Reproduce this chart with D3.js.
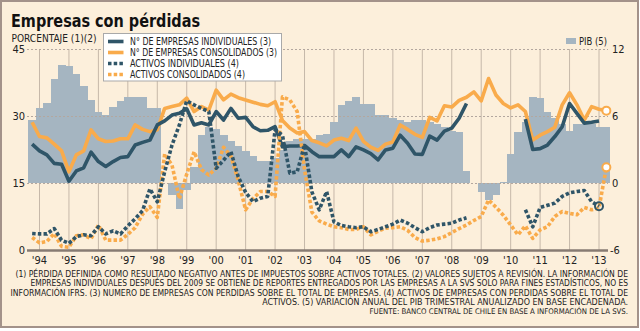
<!DOCTYPE html>
<html>
<head>
<meta charset="utf-8">
<script src="https://cdn.jsdelivr.net/npm/d3@7/dist/d3.min.js"></script>
<style>
  html, body { margin: 0; padding: 0; background: #fff; }
  svg { display: block; font-family: "DejaVu Sans Condensed", "DejaVu Sans", sans-serif; }
</style>
</head>
<body>
<div id="chart"></div>
<script>
// quarters, year-quarter
const quarters = [
  '1993-4',
  '1994-1', '1994-2', '1994-3', '1994-4', '1995-1', '1995-2', '1995-3', '1995-4',
  '1996-1', '1996-2', '1996-3', '1996-4', '1997-1', '1997-2', '1997-3', '1997-4',
  '1998-1', '1998-2', '1998-3', '1998-4', '1999-1', '1999-2', '1999-3', '1999-4',
  '2000-1', '2000-2', '2000-3', '2000-4', '2001-1', '2001-2', '2001-3', '2001-4',
  '2002-1', '2002-2', '2002-3', '2002-4', '2003-1', '2003-2', '2003-3', '2003-4',
  '2004-1', '2004-2', '2004-3', '2004-4', '2005-1', '2005-2', '2005-3', '2005-4',
  '2006-1', '2006-2', '2006-3', '2006-4', '2007-1', '2007-2', '2007-3', '2007-4',
  '2008-1', '2008-2', '2008-3', '2008-4', '2009-1', '2009-2', '2009-3', '2009-4',
  '2010-1', '2010-2', '2010-3', '2010-4', '2011-1', '2011-2', '2011-3', '2011-4',
  '2012-1', '2012-2', '2012-3', '2012-4', '2013-1', '2013-2'
];

// PIB, % (right axis)
const pib = [
  5.6,
  6.7, 7.2, 9.3, 10.6, 10.5, 9.8, 8.7, 7.4,
  6.4, 6.1, 6.8, 7.3, 7.7, 7.7, 7.7, 6.7,
  6.7, 0, -1.1, -2.3, -0.65, 1.4, 4.3, 5.0,
  4.8, 4.3, 3.8, 3.3, 2.9, 2.4, 2.0, 2.0,
  2.2, 3.0, 3.8, 3.9, 3.9, 3.9, 4.3, 4.4,
  5.5, 7.0, 7.3, 7.7, 7.1, 7.1, 6.1, 6.1,
  5.8, 5.6, 5.5, 5.6, 5.6, 5.5, 5.3, 5.0,
  4.7, 4.6, 1.1, 0, -0.8, -1.55, -1.05, 0.1,
  2.6, 4.6, 5.5, 7.7, 7.6, 6.4, 5.8, 5.3,
  4.7, 5.3, 5.3, 5.3, 5.0, 5.0
];

// N° de empresas individuales (3)
const empIndividuales = [
  23.7,
  22.2, 21.3, 19.4, 19.2, 15.4, 17.7, 18.4, 21.9,
  19.8, 18.7, 19.8, 20.7, 20.9, 23.5, 24.1, 24.6,
  28.0, 28.9, 30.2, 30.6, 31.6, 28.0, 28.5, 28.0,
  31.0, 29.1, 31.7, 29.5, 29.7, 27.6, 26.7, 26.8,
  27.6, 23.1, 23.3, 23.3, 23.4, 22.0, 20.9, 20.9,
  20.9, 22.4, 20.9, 23.1, 22.4, 21.6, 20.2, 22.4,
  22.8, 25.7, 23.9, 21.5, 21.4, 25.5, 24.6, 26.6,
  27.3, 29.5, 32.8, null, null, null, null, null,
  null, null, 29.3, 22.5, 22.7, 23.5, 25.4, 27.6,
  32.8, 30.6, 28.4, 28.6, 28.9, null
];

// N° de empresas consolidados (3)
const empConsolidados = [
  28.6,
  25.4, 25.1, 23.7, 22.2, 17.5, 21.3, 22.2, 26.9,
  24.9, 24.3, 24.4, 24.9, 24.9, 28.0, 27.0, 26.5,
  26.9, 31.7, 32.1, 32.5, 34.0, 31.0, 32.1, 31.3,
  35.8, 33.6, 34.9, 34.1, 33.6, 33.1, 32.6, 32.3,
  33.2, 29.0, 27.3, 26.2, 26.5, 24.5, 24.0, 23.3,
  24.6, 25.0, 24.5, 27.3, 24.3, 23.0, 22.3, 23.7,
  24.2, 28.0, 27.0, 25.9, 25.2, 29.7, 28.9, 32.3,
  32.0, 33.5, 34.2, 35.4, 33.4, 38.4, 34.7, 32.8,
  31.8, 32.5, 31.0, 24.6, 25.7, 26.5, 27.5, 32.5,
  35.2, 32.5, 29.1, 32.1, 31.5, 31.2
];

// Activos individuales (4)
const actIndividuales = [
  3.7,
  3.6, 3.6, 4.8, 2.2, 1.5, 3.0, 3.4, 3.2,
  5.2, 3.6, 4.3, 3.6, 5.4, 7.0, 8.8, 13.7,
  10.8, 17.5, 23.5, 28.0, 33.4, 32.5, 31.7, 31.0,
  18.3, 20.1, 22.0, 16.4, 12.9, 10.8, 11.6, 12.0,
  26.9, 25.7, 17.2, 17.5, 23.5, 13.0, 9.0, 13.1,
  6.3, 5.5, 5.2, 5.0, 5.2, 4.1, 4.6, 5.2,
  5.8, 6.7, 6.0, 5.0, 4.1, 5.0, 5.6, 5.8,
  6.0, 6.7, 7.2, null, null, null, null, null,
  null, null, 9.0, 5.2, 9.5, 10.0, 10.5, 12.0,
  12.8, 13.1, 13.3, 10.8, 9.8, null
];

// Activos consolidados (4)
const actConsolidados = [
  2.8,
  1.6, 1.9, 3.7, 0.8, 0.6, 3.2, 3.4, 2.5,
  5.6, 2.2, 2.2, 2.2, 3.5, 5.0, 8.0, 9.7,
  7.3, 21.5, 19.0, 11.5, 17.0, 22.0, 18.0, 16.8,
  18.3, 23.0, 21.0, 15.5, 9.0, 11.5, 13.1, 13.1,
  12.0, 34.3, 33.6, 31.0, 18.0, 8.5, 6.5, 5.8,
  5.2, 5.0, 4.6, 4.6, 5.2, 3.4, 4.2, 4.9,
  5.0, 5.2, 4.4, 2.8, 2.0, 2.2, 2.5, 3.0,
  3.9, 4.8, 5.6, 6.6, 7.5, 11.2, 9.6, 7.8,
  5.6, 3.4, 5.4, 2.6, 4.5, 5.2, 7.5, 8.6,
  8.2, 7.9, 9.5, 9.0, 9.4, 18.5
];

const yearTicks = [1994, 1995, 1996, 1997, 1998, 1999, 2000, 2001, 2002, 2003,
  2004, 2005, 2006, 2007, 2008, 2009, 2010, 2011, 2012, 2013];
const leftTicks = [0, 15, 30, 45];
const rightTicks = [-6, 0, 6, 12];

const legendLabels = [
  'N° DE EMPRESAS INDIVIDUALES (3)',
  'N° DE EMPRESAS CONSOLIDADOS (3)',
  'ACTIVOS INDIVIDUALES (4)',
  'ACTIVOS CONSOLIDADOS (4)'
];

const notes = [
  '(1) PÉRDIDA DEFINIDA COMO RESULTADO NEGATIVO ANTES DE IMPUESTOS SOBRE ACTIVOS TOTALES.  (2) VALORES SUJETOS A REVISIÓN. LA INFORMACIÓN DE',
  'EMPRESAS INDIVIDUALES DESPUÉS DEL 2009 SE OBTIENE DE REPORTES ENTREGADOS POR LAS EMPRESAS A LA SVS SOLO PARA FINES ESTADÍSTICOS, NO ES',
  'INFORMACIÓN IFRS.  (3) NUMERO DE EMPRESAS CON PERDIDAS SOBRE EL TOTAL DE EMPRESAS.  (4) ACTIVOS DE EMPRESAS CON PERDIDAS SOBRE EL TOTAL DE',
  'ACTIVOS.  (5) VARIACIÓN ANUAL DEL PIB TRIMESTRAL ANUALIZADO EN BASE ENCADENADA.',
  'FUENTE: BANCO CENTRAL DE CHILE EN BASE A INFORMACIÓN DE LA SVS.'
];

const BLUE = '#2f5568';
const ORANGE = '#f9ab4b';
const PIB_COLOR = '#a5b5c1';
const BG = '#fcefdb';

const width = 640, height = 331;
const plot = { left: 27, right: 608, top: 49, bottom: 250 };

const timeOf = q => {
  const parts = q.split('-').map(Number);
  return parts[0] + (parts[1] - 1) / 4;
};

const svg = d3.select('#chart').append('svg')
  .attr('width', width)
  .attr('height', height);

// frame
svg.append('rect')
  .attr('x', 1).attr('y', 1)
  .attr('width', width - 3).attr('height', 326)
  .attr('fill', BG)
  .attr('stroke', '#a3928a')
  .attr('stroke-width', 2);

const x = d3.scaleLinear().domain([1994, 2013]).range([39.5, 599]);
const yLeft = d3.scaleLinear().domain([0, 45]).range([plot.bottom, plot.top]);
const yRight = d3.scaleLinear().domain([-6, 12]).range([plot.bottom, plot.top]);
const barW = x(1994.25) - x(1994);

// vertical year grid
svg.append('g')
  .selectAll('line')
  .data(yearTicks)
  .enter()
  .append('line')
  .attr('x1', d => x(d)).attr('x2', d => x(d))
  .attr('y1', plot.top).attr('y2', plot.bottom)
  .attr('stroke', '#c6b8a9')
  .attr('stroke-width', 1);

// PIB bars (right axis)
svg.append('g')
  .selectAll('rect')
  .data(pib)
  .enter()
  .append('rect')
  .attr('x', (d, i) => x(timeOf(quarters[i])) - barW / 2)
  .attr('y', d => Math.min(yRight(d), yRight(0)))
  .attr('width', barW + 0.3)
  .attr('height', d => Math.abs(yRight(d) - yRight(0)))
  .attr('fill', PIB_COLOR)
  .attr('shape-rendering', 'crispEdges');

// dashed horizontal grid
svg.append('g')
  .selectAll('line')
  .data(leftTicks.filter(d => d > 0))
  .enter()
  .append('line')
  .attr('x1', plot.left).attr('x2', plot.right)
  .attr('y1', d => Math.round(yLeft(d)) + 0.5).attr('y2', d => Math.round(yLeft(d)) + 0.5)
  .attr('stroke', '#b3a79f')
  .attr('stroke-width', 1)
  .attr('stroke-dasharray', '2,2');

// bottom axis line
svg.append('line')
  .attr('x1', plot.left).attr('x2', plot.right)
  .attr('y1', plot.bottom + 0.5).attr('y2', plot.bottom + 0.5)
  .attr('stroke', '#877b73')
  .attr('stroke-width', 2.5);

const series = [
  { values: empConsolidados, color: ORANGE, dash: null },
  { values: empIndividuales, color: BLUE, dash: null },
  { values: actConsolidados, color: ORANGE, dash: '3.5,2.2' },
  { values: actIndividuales, color: BLUE, dash: '3.5,2.2' }
];

const line = d3.line()
  .defined(d => d.v != null)
  .x(d => x(d.t))
  .y(d => yLeft(d.v));

series.forEach(s => {
  const pts = s.values.map((v, i) => ({ t: timeOf(quarters[i]), v }));
  svg.append('path')
    .datum(pts)
    .attr('fill', 'none')
    .attr('stroke', s.color)
    .attr('stroke-width', 3.6)
    .attr('stroke-linejoin', 'round')
    .attr('stroke-dasharray', s.dash)
    .attr('d', line);
});

// end markers
const lastOf = arr => {
  let i = arr.length - 1;
  while (arr[i] == null) i--;
  return { t: timeOf(quarters[i]), v: arr[i] };
};
[
  { p: lastOf(actIndividuales), color: BLUE, fill: 'none' },
  { p: lastOf(empConsolidados), color: ORANGE, fill: '#fff' },
  { p: lastOf(actConsolidados), color: ORANGE, fill: '#fff' }
].forEach(m => {
  svg.append('circle')
    .attr('cx', x(m.p.t))
    .attr('cy', yLeft(m.p.v))
    .attr('r', 4)
    .attr('fill', m.fill)
    .attr('stroke', m.color)
    .attr('stroke-width', 2);
});

// left axis labels
svg.append('g')
  .selectAll('text')
  .data(leftTicks)
  .enter()
  .append('text')
  .attr('x', 25)
  .attr('y', d => yLeft(d) + 4)
  .attr('text-anchor', 'end')
  .attr('font-size', 11)
  .attr('fill', '#222')
  .text(d => d);

// right axis labels
svg.append('g')
  .selectAll('text')
  .data(rightTicks)
  .enter()
  .append('text')
  .attr('x', d => d < 0 ? 610 : 612)
  .attr('y', d => yRight(d) + 4)
  .attr('font-size', 11)
  .attr('fill', '#222')
  .text(d => d);

// year labels
svg.append('g')
  .selectAll('text')
  .data(yearTicks)
  .enter()
  .append('text')
  .attr('x', d => x(d))
  .attr('y', 264)
  .attr('text-anchor', 'middle')
  .attr('font-size', 11)
  .attr('fill', '#222')
  .text(d => "'" + String(d).slice(2));

// title
svg.append('text')
  .attr('x', 11).attr('y', 27)
  .attr('font-size', 18.5)
  .attr('font-weight', 'bold')
  .attr('fill', '#111')
  .attr('textLength', 189)
  .attr('lengthAdjust', 'spacingAndGlyphs')
  .text('Empresas con pérdidas');

svg.append('text')
  .attr('x', 11.5).attr('y', 41.5)
  .attr('font-size', 10.5)
  .attr('fill', '#222')
  .attr('textLength', 85)
  .attr('lengthAdjust', 'spacingAndGlyphs')
  .text('PORCENTAJE (1)(2)');

// legend
const legend = svg.append('g');
legend.append('rect')
  .attr('x', 103.5).attr('y', 33.5)
  .attr('width', 178).attr('height', 47.5)
  .attr('fill', '#fff')
  .attr('stroke', '#a9a9a9');
const legendWidths = [141, 147, 109, 115];
const legendStyle = [
  { color: BLUE, dash: null },
  { color: ORANGE, dash: null },
  { color: BLUE, dash: '3.5,2.2' },
  { color: ORANGE, dash: '3.5,2.2' }
];
legendLabels.forEach((label, i) => {
  const cy = 41.5 + i * 11;
  legend.append('line')
    .attr('x1', 108).attr('x2', 123.5)
    .attr('y1', cy).attr('y2', cy)
    .attr('stroke', legendStyle[i].color)
    .attr('stroke-width', 3.6)
    .attr('stroke-dasharray', legendStyle[i].dash);
  legend.append('text')
    .attr('x', 130).attr('y', cy + 3.6)
    .attr('font-size', 9.6)
    .attr('fill', '#222')
    .attr('textLength', legendWidths[i])
    .attr('lengthAdjust', 'spacingAndGlyphs')
    .text(label);
});

// PIB legend
svg.append('rect')
  .attr('x', 566).attr('y', 38)
  .attr('width', 10).attr('height', 6)
  .attr('fill', PIB_COLOR);
svg.append('text')
  .attr('x', 579).attr('y', 45)
  .attr('font-size', 9.6)
  .attr('fill', '#222')
  .attr('textLength', 28)
  .attr('lengthAdjust', 'spacingAndGlyphs')
  .text('PIB (5)');

// footnotes, right aligned; font size fitted to the target width
const noteWidths = [611, 596, 616, 365, 258];
svg.append('g')
  .selectAll('text')
  .data(notes)
  .enter()
  .append('text')
  .attr('x', 628)
  .attr('y', (d, i) => 277 + i * 9.3)
  .attr('text-anchor', 'end')
  .attr('font-size', 8.4)
  .attr('fill', '#222')
  .text(d => d)
  .each(function (d, i) {
    const w = this.getComputedTextLength();
    if (w > 0) {
      const fs = Math.max(7, Math.min(9.5, 8.4 * noteWidths[i] / w));
      d3.select(this).attr('font-size', fs.toFixed(2));
    }
  });
</script>
</body>
</html>
